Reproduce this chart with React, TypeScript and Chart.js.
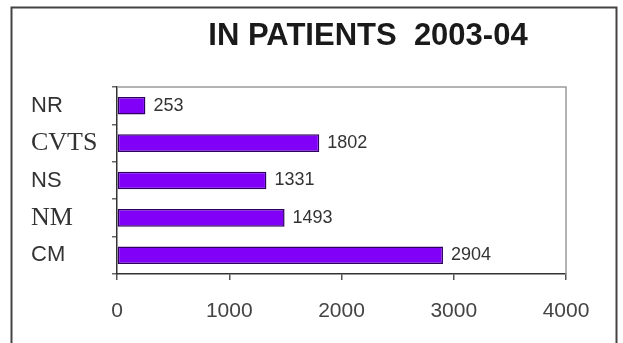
import React, { useEffect, useRef } from "react";
import { Chart, registerables } from "chart.js";

Chart.register(...registerables);

const TITLE = "IN PATIENTS  2003-04";
const CATEGORIES = ["NR", "CVTS", "NS", "NM", "CM"];
const VALUES = [253, 1802, 1331, 1493, 2904];
const LABEL_FONTS = ["sans", "serif", "sans", "serif", "sans"];
const X_MIN = 0;
const X_MAX = 4000;
const X_STEP = 1000;

const SANS = "'Liberation Sans', Arial, sans-serif";
const SERIF = "'Liberation Serif', 'Times New Roman', serif";

const decorPlugin = {
  id: "decor",
  beforeDraw(chart: any) {
    const ctx = chart.ctx;
    ctx.save();
    ctx.fillStyle = "#ffffff";
    ctx.fillRect(0, 0, chart.width, chart.height);
    // outer frame (left, top, right)
    ctx.strokeStyle = "#444444";
    ctx.lineWidth = 2;
    ctx.beginPath();
    ctx.moveTo(11.5, chart.height);
    ctx.lineTo(11.5, 7.5);
    ctx.lineTo(616.5, 7.5);
    ctx.lineTo(616.5, chart.height);
    ctx.stroke();
    ctx.restore();
  },
  afterDraw(chart: any) {
    const ctx = chart.ctx;
    const a = chart.chartArea;
    ctx.save();
    // plot border top & right
    ctx.strokeStyle = "#9a9a9a";
    ctx.lineWidth = 1.5;
    ctx.beginPath();
    ctx.moveTo(a.left, a.top);
    ctx.lineTo(a.right, a.top);
    ctx.lineTo(a.right, a.bottom);
    ctx.stroke();
    // title
    ctx.fillStyle = "#1a1a1a";
    ctx.font = "bold 31px " + SANS;
    ctx.textAlign = "center";
    ctx.textBaseline = "middle";
    ctx.fillText(TITLE, 368, 36);
    // value labels
    const meta = chart.getDatasetMeta(0);
    ctx.font = "18px " + SANS;
    ctx.fillStyle = "#333333";
    ctx.textAlign = "left";
    meta.data.forEach((el: any, i: number) => {
      ctx.fillText(String(VALUES[i]), el.x + 8, el.y);
    });
    ctx.restore();
  },
};

export default function App() {
  const ref = useRef<HTMLCanvasElement | null>(null);
  useEffect(() => {
    if (!ref.current) return;
    const chart = new Chart(ref.current, {
      type: "bar",
      data: {
        labels: CATEGORIES,
        datasets: [
          {
            data: VALUES,
            backgroundColor: "#8000f8",
            borderColor: "#2e0060",
            borderWidth: 1.5,
            borderSkipped: false,
            categoryPercentage: 1,
            barPercentage: 0.47,
          },
        ],
      },
      options: {
        indexAxis: "y",
        responsive: false,
        animation: false,
        maintainAspectRatio: false,
        layout: { padding: { top: 87, right: 57, left: 31, bottom: 0 } },
        plugins: {
          legend: { display: false },
          title: { display: false },
          tooltip: { enabled: false },
        },
        scales: {
          x: {
            min: X_MIN,
            max: X_MAX,
            ticks: {
              stepSize: X_STEP,
              color: "#444444",
              font: { family: SANS, size: 21 },
              padding: 19,
              callback: (v: any) => String(v),
            },
            grid: {
              drawOnChartArea: false,
              drawTicks: true,
              tickLength: 6,
              color: "#555555",
              lineWidth: 1.5,
            },
            border: { color: "#333333", width: 1.5 },
            afterFit: (s: any) => {
              s.height = 69;
            },
          },
          y: {
            ticks: {
              color: "#333333",
              crossAlign: "far",
              font: (c: any) =>
                LABEL_FONTS[c.index] === "serif"
                  ? { family: SERIF, size: 26 }
                  : { family: SANS, size: 22 },
            },
            grid: {
              drawOnChartArea: false,
              drawTicks: true,
              tickLength: 5,
              color: "#666666",
              lineWidth: 1.5,
              offset: true,
            },
            border: { color: "#333333", width: 1.5 },
            afterFit: (s: any) => {
              s.width = 86;
            },
          },
        },
      },
      plugins: [decorPlugin],
    });
    return () => chart.destroy();
  }, []);
  return (
    <div style={{ position: "absolute", left: 0, top: 0, width: 623, height: 343 }}>
      <canvas ref={ref} width={623} height={343} style={{ display: "block" }} />
    </div>
  );
}
